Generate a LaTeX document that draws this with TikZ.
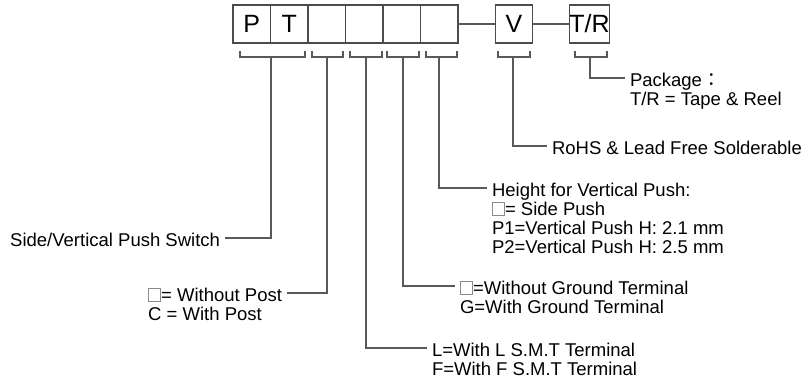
\documentclass[tikz,border=0pt]{standalone}
\usepackage{fontspec}
\setmainfont{Liberation Sans}
\newfontfamily\cjk{Noto Sans CJK TC}
\usetikzlibrary{positioning}

% small empty square used in the option texts
\newcommand{\emptybox}{{\color{black!45}\setlength{\fboxsep}{0pt}\setlength{\fboxrule}{0.5pt}\fbox{\rule{0pt}{6pt}\rule{5.5pt}{0pt}}}}

\tikzset{
  cell/.style={draw=black!70, line width=0.7pt, minimum width=18.75pt, minimum height=19pt,
    inner sep=0pt, outer sep=0pt, font=\fontsize{12.5}{13}\selectfont},
  leader/.style={draw=black!65, line width=0.7pt},
  lbl/.style={inner xsep=2.5pt, inner ysep=0pt, outer sep=0pt, text height=8pt, text depth=0pt,
    font=\fontsize{9.25}{9.5}\selectfont}
}

\begin{document}
\begin{tikzpicture}[x=0.5pt, y=-0.5pt]
\useasboundingbox (0,0) rectangle (808,381);

% part number boxes
\node[cell] (b1) at (251.75,24) {P};
\node[cell, right=0pt of b1] (b2) {T};
\node[cell, right=0pt of b2] (b3) {};
\node[cell, right=0pt of b3] (b4) {};
\node[cell, right=0pt of b4] (b5) {};
\node[cell, right=0pt of b5] (b6) {};
\node[cell] (bv) at (514,24) {V};
\node[cell] (btr) at (589.5,24) {T/R};
\draw[leader] (b6) -- (bv);
\draw[leader] (bv) -- (btr);

% brackets under the boxes
\foreach \l/\r/\m/\n in {240/305/271/pt, 312/343/327/post, 350/382/366/smt,
    387/419/403/gnd, 426/457/439/hgt, 498/530/513/rohs, 575/607/590/pkg}{
  \draw[leader] (\l,51) -- (\l,57) -- (\r,57) -- (\r,51);
  \coordinate (k\n) at (\m,57);
}

% labels
\node[lbl, anchor=west] (pkg) at (625,78) {Package{\cjk ：}};
\node[lbl, below=1.5pt of pkg.south west, anchor=north west] (pkg2) {T/R = Tape \& Reel};

\node[lbl, anchor=west] (rohs) at (547,146) {RoHS \& Lead Free Solderable};

\node[lbl, anchor=west] (hgt) at (487,188) {Height for Vertical Push:};
\node[lbl, below=1.5pt of hgt.south west, anchor=north west] (hgt2) {\emptybox= Side Push};
\node[lbl, below=1.5pt of hgt2.south west, anchor=north west] (hgt3) {P1=Vertical Push H: 2.1 mm};
\node[lbl, below=1.5pt of hgt3.south west, anchor=north west] (hgt4) {P2=Vertical Push H: 2.5 mm};

\node[lbl, anchor=west] (gnd) at (455,286) {\emptybox=Without Ground Terminal};
\node[lbl, below=1.5pt of gnd.south west, anchor=north west] (gnd2) {G=With Ground Terminal};

\node[lbl, anchor=west] (smt) at (427,348) {L=With L S.M.T Terminal};
\node[lbl, below=1.5pt of smt.south west, anchor=north west] (smt2) {F=With F S.M.T Terminal};

\node[lbl, anchor=east] (post) at (287,293) {\emptybox= Without Post};
\node[lbl, below=1.5pt of post.south west, anchor=north west] (post2) {C = With Post};

\node[lbl, anchor=east] (sw) at (225,238) {Side/Vertical Push Switch};

% leader lines
\draw[leader] (kpkg) |- (pkg.west);
\draw[leader] (krohs) |- (rohs.west);
\draw[leader] (khgt) |- (hgt.west);
\draw[leader] (kgnd) |- (gnd.west);
\draw[leader] (ksmt) |- (smt.west);
\draw[leader] (kpost) |- (post.east);
\draw[leader] (kpt) |- (sw.east);
\end{tikzpicture}
\end{document}
